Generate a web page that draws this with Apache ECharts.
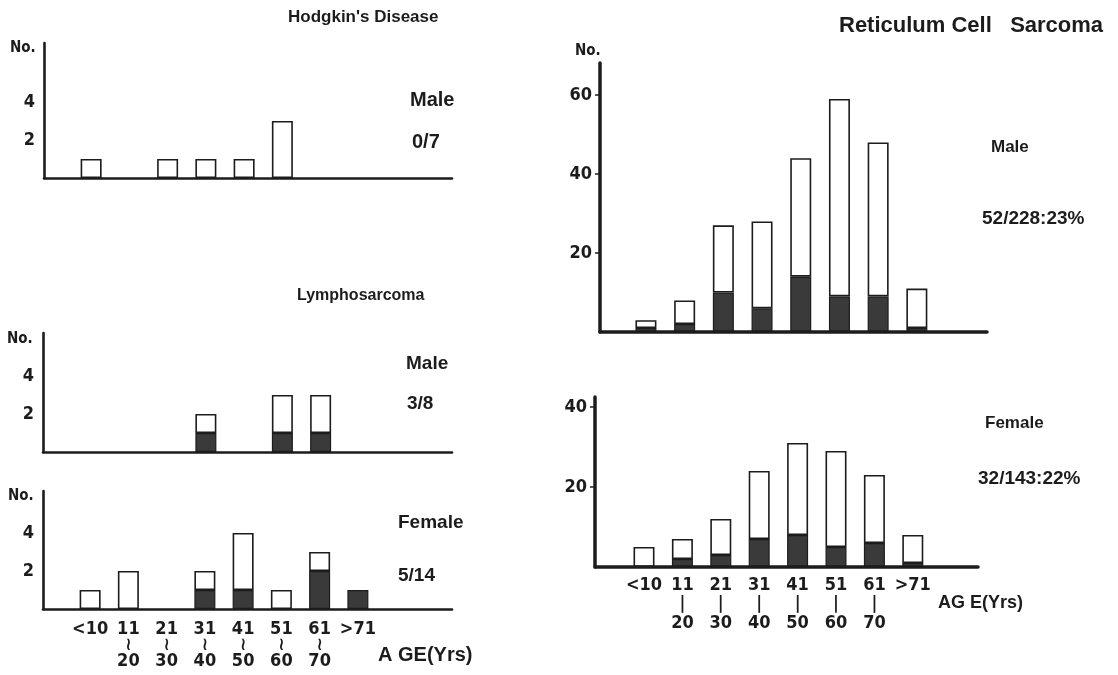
<!DOCTYPE html>
<html>
<head>
<meta charset="utf-8">
<script src="https://cdn.jsdelivr.net/npm/echarts@6/dist/echarts.min.js"></script>
<style>
  html, body { margin: 0; padding: 0; background: #fff; }
  #chart { width: 1118px; height: 675px; }
</style>
</head>
<body>
<div id="chart"></div>
<script>
// age groups shared by all five histograms
var ageGroups = ['<10', '11-20', '21-30', '31-40', '41-50', '51-60', '61-70', '>71'];

// number of cases per age group (whole bar) and the dark part of each bar
var hodgkinMale = [1, 0, 1, 1, 1, 3, 0, 0];
var hodgkinMaleDark = [0, 0, 0, 0, 0, 0, 0, 0];
var lymphoMale = [0, 0, 0, 2, 0, 3, 3, 0];
var lymphoMaleDark = [0, 0, 0, 1, 0, 1, 1, 0];
var lymphoFemale = [1, 2, 0, 2, 4, 1, 3, 1];
var lymphoFemaleDark = [0, 0, 0, 1, 1, 0, 2, 1];
var rcsMale = [3, 8, 27, 28, 44, 59, 48, 11];
var rcsMaleDark = [1, 2, 10, 6, 14, 9, 9, 1];
var rcsFemale = [5, 7, 12, 24, 31, 29, 23, 8];
var rcsFemaleDark = [0, 2, 3, 7, 8, 5, 6, 1];

// y tick labels
var smallTicks = [2, 4];
var rcsMaleTicks = [20, 40, 60];
var rcsFemaleTicks = [20, 40];

var ink = '#1c1c1c';
var sans = "'Liberation Sans', Arial, sans-serif";
var narrow = "'Liberation Sans Narrow', 'DejaVu Sans Condensed', sans-serif";

// frame = [left, top, width, height] of the axis lines, bars = [left, width] of the category band
var panels = [
  { total: hodgkinMale, dark: hodgkinMaleDark, ticks: smallTicks, frame: [44, 43, 408, 135], bars: [72, 306], yMax: 7.1, left: true, xLabels: false },
  { total: lymphoMale, dark: lymphoMaleDark, ticks: smallTicks, frame: [43, 333, 409, 119], bars: [72, 306], yMax: 6.26, left: true, xLabels: false },
  { total: lymphoFemale, dark: lymphoFemaleDark, ticks: smallTicks, frame: [43, 491, 409, 118], bars: [71, 306], yMax: 6.21, left: true, xLabels: true },
  { total: rcsMale, dark: rcsMaleDark, ticks: rcsMaleTicks, frame: [600, 63, 387, 269], bars: [626.6, 309.6], yMax: 68.1, left: false, xLabels: false },
  { total: rcsFemale, dark: rcsFemaleDark, ticks: rcsFemaleTicks, frame: [595, 397, 383, 170], bars: [624.8, 307.2], yMax: 42.5, left: false, xLabels: true }
];

var grids = [], xAxes = [], yAxes = [], series = [];

panels.forEach(function (p, i) {
  var g = grids.length;
  var lineW = p.left ? 2.6 : 3.5;
  grids.push({ left: p.frame[0], top: p.frame[1], width: p.frame[2], height: p.frame[3], outerBoundsMode: 'none' });
  grids.push({ left: p.bars[0], top: p.frame[1], width: p.bars[1], height: p.frame[3], outerBoundsMode: 'none' });

  // axis frame
  xAxes.push({
    type: 'value', gridIndex: g, min: 0, max: 1, z: 5,
    axisLine: { show: true, onZero: false, lineStyle: { color: ink, width: lineW } },
    axisTick: { show: false }, axisLabel: { show: false }, splitLine: { show: false }
  });
  yAxes.push({
    type: 'value', gridIndex: g, min: 0, max: p.yMax, z: 5,
    axisLine: { show: true, onZero: false, lineStyle: { color: ink, width: lineW } },
    axisTick: { show: !p.left, length: 5, customValues: p.ticks, lineStyle: { color: ink, width: 1.5 } },
    axisLabel: { customValues: p.ticks, margin: p.left ? 9 : 8, fontSize: 18, fontWeight: 'bold', fontFamily: narrow, color: ink },
    splitLine: { show: false }
  });

  // bars
  xAxes.push({
    type: 'category', gridIndex: g + 1, data: ageGroups,
    axisLine: { show: false }, axisTick: { show: false },
    axisLabel: {
      show: p.xLabels, interval: 0,
      formatter: function (v) { return v.split('-').join(p.left ? '\n≀\n' : '\n|\n'); },
      fontSize: 18, lineHeight: p.left ? 16 : 19, margin: p.left ? 12 : 8.5,
      fontWeight: 'bold', fontFamily: narrow, color: ink
    }
  });
  yAxes.push({ type: 'value', gridIndex: g + 1, min: 0, max: p.yMax, show: false });

  series.push({
    type: 'bar', xAxisIndex: g + 1, yAxisIndex: g + 1, stack: 's' + i, barWidth: 21,
    data: p.dark.map(function (v) { return v || '-'; }),
    itemStyle: { color: '#3a3a3a', borderColor: ink, borderWidth: 1.2 }
  });
  series.push({
    type: 'bar', xAxisIndex: g + 1, yAxisIndex: g + 1, stack: 's' + i, barWidth: 21,
    data: p.total.map(function (t, j) { return (t - p.dark[j]) || '-'; }),
    itemStyle: { color: '#fff', borderColor: ink, borderWidth: 1.6 }
  });
});

function label(text, x, cy, size, family) {
  return {
    text: text, left: x, top: cy - size / 2 - 1, padding: 0,
    textStyle: { fontSize: size, fontWeight: 'bold', color: ink, fontFamily: family || sans }
  };
}

var texts = [
  label("Hodgkin's Disease", 288, 18, 17),
  label('Lymphosarcoma', 297, 297, 16),
  label('Reticulum Cell   Sarcoma', 839, 27, 22),
  label('No.', 10, 49, 15, narrow),
  label('No.', 7, 340, 15, narrow),
  label('No.', 8, 497, 15, narrow),
  label('No.', 575, 52, 15, narrow),
  label('Male', 410, 101, 20),
  label('0/7', 412, 143, 20),
  label('Male', 406, 365, 19),
  label('3/8', 407, 405, 19),
  label('Female', 398, 524, 19),
  label('5/14', 398, 577, 19),
  label('A GE(Yrs)', 378, 656, 20),
  label('Male', 991, 148, 17),
  label('52/228:23%', 982, 220, 19),
  label('Female', 985, 424, 17),
  label('32/143:22%', 978, 480, 19),
  label('AG E(Yrs)', 938, 604, 18)
];

var chart = echarts.init(document.getElementById('chart'));
chart.setOption({
  animation: false,
  backgroundColor: '#fff',
  title: texts,
  grid: grids,
  xAxis: xAxes,
  yAxis: yAxes,
  series: series
});
</script>
</body>
</html>
